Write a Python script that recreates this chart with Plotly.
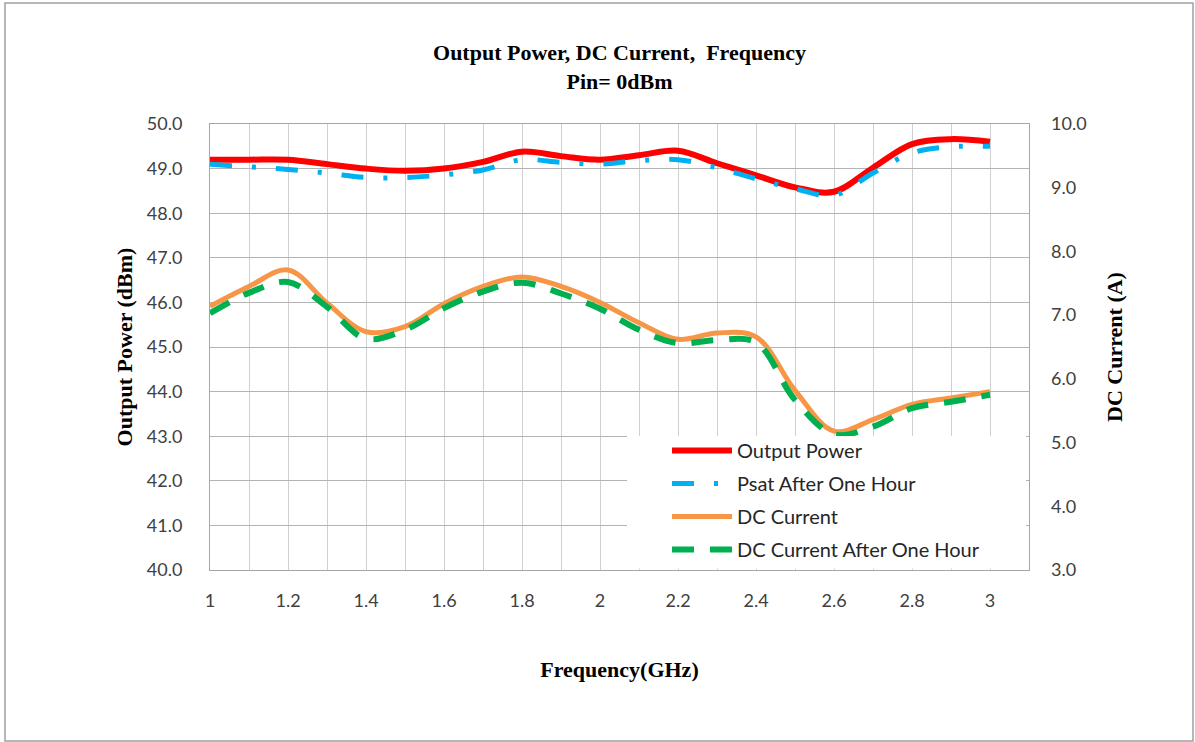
import plotly.graph_objects as go

# ---------------- data ----------------
freq = [1.0, 1.1, 1.2, 1.3, 1.4, 1.5, 1.6, 1.7, 1.8, 1.9, 2.0,
        2.1, 2.2, 2.3, 2.4, 2.5, 2.6, 2.7, 2.8, 2.9, 3.0]

output_power = [49.2, 49.2, 49.2, 49.1, 49.0, 48.95, 49.0, 49.15, 49.38, 49.28, 49.2,
                49.3, 49.4, 49.12, 48.85, 48.58, 48.48, 49.02, 49.55, 49.66, 49.6]

psat_after_hour = [49.1, 49.04, 48.98, 48.9, 48.8, 48.8, 48.86, 48.97, 49.2, 49.14, 49.1,
                   49.18, 49.2, 49.02, 48.77, 48.55, 48.4, 48.9, 49.35, 49.49, 49.5]

dc_current = [7.14, 7.45, 7.71, 7.19, 6.74, 6.82, 7.18, 7.45, 7.6, 7.45, 7.2,
              6.88, 6.62, 6.72, 6.66, 5.82, 5.18, 5.36, 5.6, 5.7, 5.8]

dc_current_after_hour = [7.03, 7.35, 7.52, 7.13, 6.63, 6.77, 7.11, 7.37, 7.51, 7.34, 7.1,
                         6.77, 6.56, 6.61, 6.57, 5.67, 5.13, 5.25, 5.54, 5.64, 5.75]

x_ticks = [1, 1.2, 1.4, 1.6, 1.8, 2, 2.2, 2.4, 2.6, 2.8, 3]

# --------------- figure ---------------
W, H = 1195, 742
L, R, T, B = 210, 166, 124, 172
pw, ph = W - L - R, H - T - B

fig = go.Figure()

fig.add_trace(go.Scatter(
    x=freq, y=output_power, name="Output Power", mode="lines",
    line=dict(color="#FF0000", width=6, shape="spline", smoothing=1.0),
    legendgroup="a", yaxis="y"))
fig.add_trace(go.Scatter(
    x=freq, y=psat_after_hour, name="Psat After One Hour", mode="lines",
    line=dict(color="#00B0F0", width=5, shape="spline", smoothing=1.0,
              dash="22px,20px,4px,20px"),
    legendgroup="b", yaxis="y"))
fig.add_trace(go.Scatter(
    x=freq, y=dc_current, name="DC Current", mode="lines",
    line=dict(color="#F79646", width=5, shape="spline", smoothing=1.0),
    legendgroup="c", yaxis="y2"))
fig.add_trace(go.Scatter(
    x=freq, y=dc_current_after_hour, name="DC Current After One Hour", mode="lines",
    line=dict(color="#00B050", width=6, shape="spline", smoothing=1.0,
              dash="22px,16px"),
    legendgroup="d", yaxis="y2"))

tick_font = dict(family="Lato, Calibri, sans-serif", size=18, color="#404040")
title_font = dict(family="Liberation Serif, Times New Roman, serif", size=22, color="#000000")

fig.update_layout(
    width=W, height=H,
    margin=dict(l=L, r=R, t=T, b=B, pad=0),
    paper_bgcolor="white", plot_bgcolor="white",
    showlegend=True,
    title=dict(
        text="<b>Output Power, DC Current,  Frequency<br>Pin= 0dBm</b>",
        x=0.5, xref="paper", xanchor="center",
        y=1 - 60 / H, yref="container", yanchor="top",
        font=dict(family="Liberation Serif, Times New Roman, serif", size=22, color="#000000")),
    xaxis=dict(
        range=[1, 3.1], tickmode="array", tickvals=x_ticks,
        ticktext=[str(v) for v in x_ticks],
        showgrid=True, gridcolor="#D0D0D0", gridwidth=1,
        minor=dict(dtick=0.1, tick0=1, showgrid=True, gridcolor="#D0D0D0", gridwidth=1),
        showline=True, linecolor="#A6A6A6", linewidth=1, mirror=True,
        ticks="", ticklabelstandoff=14, tickfont=tick_font,
        zeroline=False,
        title=dict(text="<b>Frequency(GHz)</b>", font=title_font, standoff=52)),
    yaxis=dict(
        range=[40, 50], dtick=1, tick0=40, tickformat=".1f",
        showgrid=True, gridcolor="#B4B4B4", gridwidth=1,
        showline=True, linecolor="#A6A6A6", linewidth=1, mirror=True,
        ticks="", ticklabelstandoff=23, tickfont=tick_font, zeroline=False,
        title=dict(text="<b>Output Power (dBm)</b>", font=title_font, standoff=8)),
    yaxis2=dict(
        range=[3, 10], dtick=1, tick0=3, tickformat=".1f",
        overlaying="y", side="right", showgrid=False,
        showline=False, ticks="", ticklabelstandoff=21, tickfont=tick_font,
        zeroline=False,
        title=dict(text="<b>DC Current (A)</b>", font=title_font, standoff=21)),
    legend=dict(
        x=(667 - L) / pw, xanchor="left", xref="paper",
        y=(H - B - 431) / ph, yanchor="top", yref="paper",
        bgcolor="rgba(255,255,255,0)", borderwidth=0,
        itemwidth=60, traceorder="grouped", tracegroupgap=4,
        font=dict(family="Lato, Calibri, sans-serif", size=20, color="#262626")),
    shapes=[
        # white legend area covering the grid
        dict(type="rect", xref="paper", yref="paper",
             x0=(627 - L) / pw, x1=(1026 - L) / pw,
             y0=1.5 / ph, y1=(H - B - 436) / ph,
             fillcolor="white", line=dict(width=0), layer="above"),
        # outer chart border
        dict(type="rect", xref="paper", yref="paper",
             x0=(5 - L) / pw, x1=(1193 - L) / pw,
             y0=(H - B - 741) / ph, y1=(H - B - 3) / ph,
             line=dict(color="#A0A0A0", width=1.5), layer="below"),
    ],
)

fig.write_html("out.html", config={"displayModeBar": False},
               post_script="document.body.style.margin='0';")
